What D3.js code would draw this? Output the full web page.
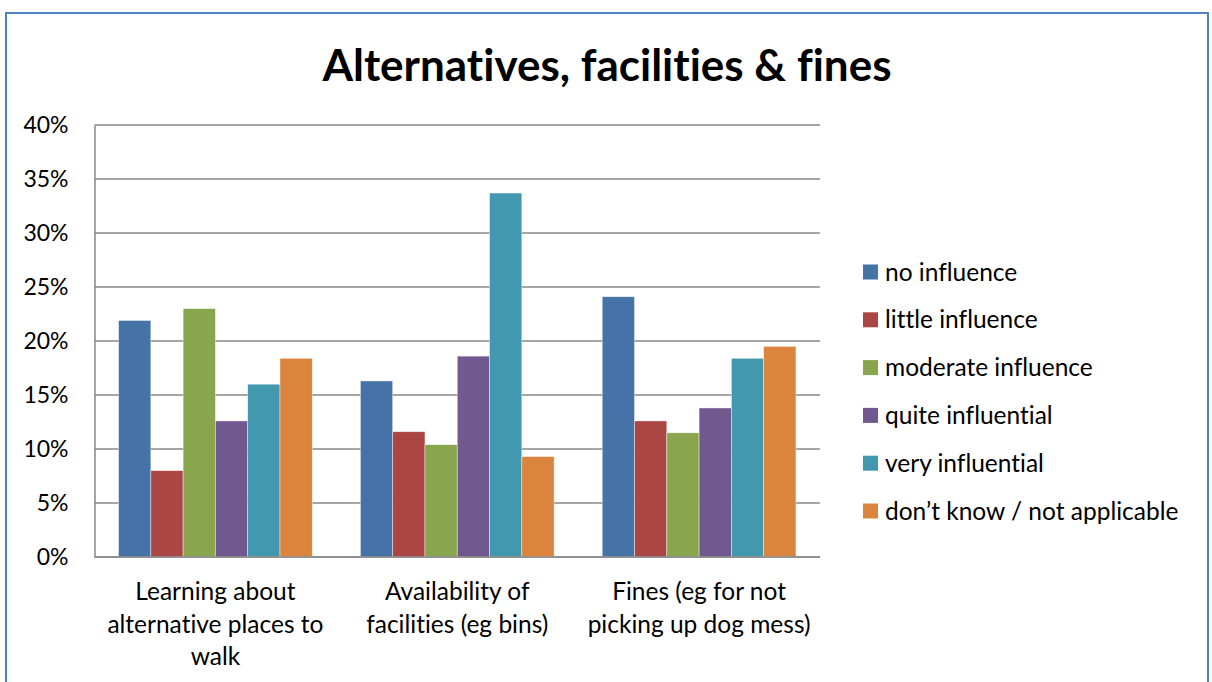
<html>
<head>
<meta charset="utf-8">
<script src="https://cdn.jsdelivr.net/npm/d3@7"></script>
<style>
  body { margin: 0; background: #fff; }
  text { font-family: Lato, "Open Sans", sans-serif; fill: #000; font-variant-ligatures: none; font-feature-settings: "liga" 0, "dlig" 0; }
</style>
</head>
<body>
<svg id="chart" width="1212" height="682"></svg>
<script>
// data
const categories = [
  ["Learning about", "alternative places to", "walk"],
  ["Availability of", "facilities (eg bins)"],
  ["Fines (eg for not", "picking up dog mess)"]
];
const seriesNames = ["no influence", "little influence", "moderate influence",
  "quite influential", "very influential", "don\u2019t know / not applicable"];
const seriesColors = ["#4572A7", "#AA4643", "#89A54E", "#71588F", "#4198AF", "#DB843D"];
const noInfluence       = [21.9, 16.3, 24.1];
const littleInfluence   = [8.0, 11.6, 12.6];
const moderateInfluence = [23.0, 10.4, 11.5];
const quiteInfluential  = [12.6, 18.6, 13.8];
const veryInfluential   = [16.0, 33.7, 18.4];
const dontKnow          = [18.4, 9.3, 19.5];
const yTicks = [0, 5, 10, 15, 20, 25, 30, 35, 40];

const values = [noInfluence, littleInfluence, moderateInfluence, quiteInfluential, veryInfluential, dontKnow];

const svg = d3.select("#chart");
const plotL = 94.5, plotR = 820, plotT = 125, plotB = 557;

// frame
svg.append("rect").attr("x", 6).attr("y", 13).attr("width", 1202).attr("height", 700)
  .attr("fill", "none").attr("stroke", "#4F81BD").attr("stroke-width", 2);

svg.append("text").attr("x", 607).attr("y", 81).attr("text-anchor", "middle")
  .style("font-size", "44px").style("font-weight", "bold")
  .text("Alternatives, facilities & fines");

const catKeys = categories.map((c, i) => i);
const x0 = d3.scaleBand().domain(catKeys).range([plotL, plotR]);
const x1 = d3.scaleBand().domain(d3.range(seriesNames.length)).range([0, x0.bandwidth()]).paddingOuter(0.745);
const y = d3.scaleLinear().domain([0, 40]).range([plotB, plotT]);

// gridlines
svg.append("g").selectAll("line").data(yTicks).enter().append("line")
  .attr("x1", plotL).attr("x2", plotR)
  .attr("y1", d => y(d)).attr("y2", d => y(d))
  .attr("stroke", "#898989").attr("stroke-width", 1.5);

// y axis
const yAxis = svg.append("g").attr("transform", "translate(" + plotL + ",0)")
  .call(d3.axisLeft(y).tickValues(yTicks).tickSize(0).tickPadding(26).tickFormat(d => d + "%"));
yAxis.select(".domain").attr("stroke", "#898989").attr("stroke-width", 1.5);
yAxis.selectAll("text").style("font-size", "23px").style("font-family", "Lato, sans-serif").attr("fill", "#000");

// bars
const groups = svg.append("g").selectAll("g").data(catKeys).enter().append("g")
  .attr("transform", d => "translate(" + x0(d) + ",0)");
groups.selectAll("rect")
  .data(ci => values.map((s, si) => ({ si: si, v: s[ci] })))
  .enter().append("rect")
  .attr("x", d => x1(d.si))
  .attr("width", x1.bandwidth())
  .attr("y", d => y(d.v))
  .attr("height", d => y(0) - y(d.v))
  .attr("fill", d => seriesColors[d.si])
  .attr("stroke", "rgba(255,255,255,0.6)").attr("stroke-width", 0.7);

// x axis line
svg.append("line").attr("x1", plotL).attr("x2", plotR).attr("y1", plotB).attr("y2", plotB)
  .attr("stroke", "#898989").attr("stroke-width", 1.5);

// category labels
categories.forEach((lines, i) => {
  const t = svg.append("text").attr("x", x0(i) + x0.bandwidth() / 2).attr("y", 600)
    .attr("text-anchor", "middle").style("font-size", "24.5px");
  lines.forEach((l, j) => t.append("tspan").attr("x", x0(i) + x0.bandwidth() / 2).attr("dy", j ? 32.5 : 0).text(l));
});

// legend
const leg = svg.append("g").selectAll("g").data(seriesNames).enter().append("g")
  .attr("transform", (d, i) => "translate(863," + (272 + i * 47.8) + ")");
leg.append("rect").attr("x", 0).attr("y", -7.5).attr("width", 15).attr("height", 15)
  .attr("fill", (d, i) => seriesColors[i]);
leg.append("text").attr("x", 22).attr("y", 0).attr("dy", "0.35em")
  .style("font-size", "24.5px").text(d => d);
</script>
</body>
</html>
